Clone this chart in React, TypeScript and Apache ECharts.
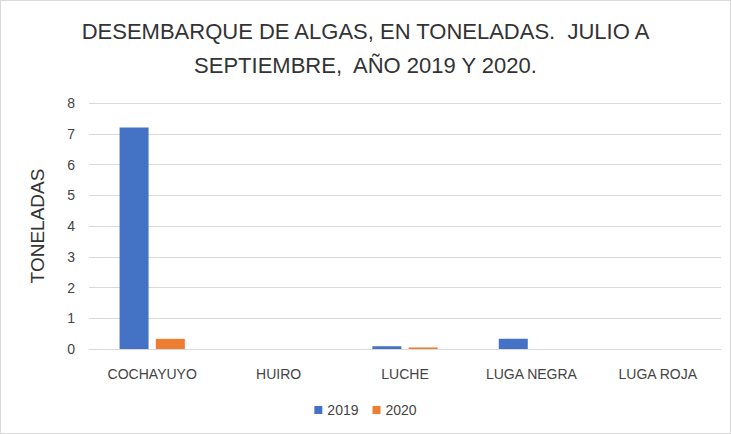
import React, { useEffect, useRef } from "react";
import * as echarts from "echarts";

const categories = ["COCHAYUYO", "HUIRO", "LUCHE", "LUGA NEGRA", "LUGA ROJA"];
const values2019 = [7.2, 0, 0.09, 0.33, 0];
const values2020 = [0.33, 0, 0.05, 0, 0];
const seriesNames = ["2019", "2020"];

const FONT = "'Liberation Sans Narrow', 'Liberation Sans', sans-serif";

export default function App() {
  const ref = useRef<HTMLDivElement>(null);
  useEffect(() => {
    if (!ref.current) return;
    const chart = echarts.init(ref.current, null, { renderer: "svg" });
    chart.setOption({
      animation: false,
      backgroundColor: "#fff",
      textStyle: { fontFamily: FONT },
      title: {
        text: "DESEMBARQUE DE ALGAS, EN TONELADAS.  JULIO A\nSEPTIEMBRE,  AÑO 2019 Y 2020.",
        left: "center",
        top: 8,
        textStyle: {
          fontFamily: FONT,
          fontSize: 22,
          fontWeight: "normal",
          color: "#333",
          lineHeight: 34,
        },
      },
      legend: {
        data: seriesNames,
        bottom: 11,
        left: "center",
        itemWidth: 8,
        itemHeight: 8,
        itemGap: 14,
        icon: "rect",
        textStyle: { fontFamily: FONT, fontSize: 14, color: "#444" },
      },
      grid: { left: 88, right: 9, top: 102, bottom: 84, containLabel: false },
      xAxis: {
        type: "category",
        data: categories,
        axisLine: { lineStyle: { color: "#d9d9d9" } },
        axisTick: { show: false },
        axisLabel: { fontFamily: FONT, fontSize: 14, color: "#444", margin: 18 },
      },
      yAxis: {
        type: "value",
        min: 0,
        max: 8,
        interval: 1,
        name: "TONELADAS",
        nameLocation: "middle",
        nameGap: 42,
        nameTextStyle: { fontFamily: FONT, fontSize: 19, color: "#333" },
        axisLine: { show: false },
        axisTick: { show: false },
        axisLabel: { fontFamily: FONT, fontSize: 14, color: "#444", margin: 14 },
        splitLine: { lineStyle: { color: "#d9d9d9" } },
      },
      series: [
        {
          name: seriesNames[0],
          type: "bar",
          data: values2019,
          itemStyle: { color: "#4472c4" },
          barWidth: 29,
          barGap: "25%",
        },
        {
          name: seriesNames[1],
          type: "bar",
          data: values2020,
          itemStyle: { color: "#ed7d31" },
          barWidth: 29,
          barGap: "25%",
        },
      ],
    });
    return () => chart.dispose();
  }, []);
  return (
    <div
      ref={ref}
      style={{
        width: 729,
        height: 432,
        border: "1px solid #d9d9d9",
        position: "absolute",
        left: 0,
        top: 0,
      }}
    />
  );
}
